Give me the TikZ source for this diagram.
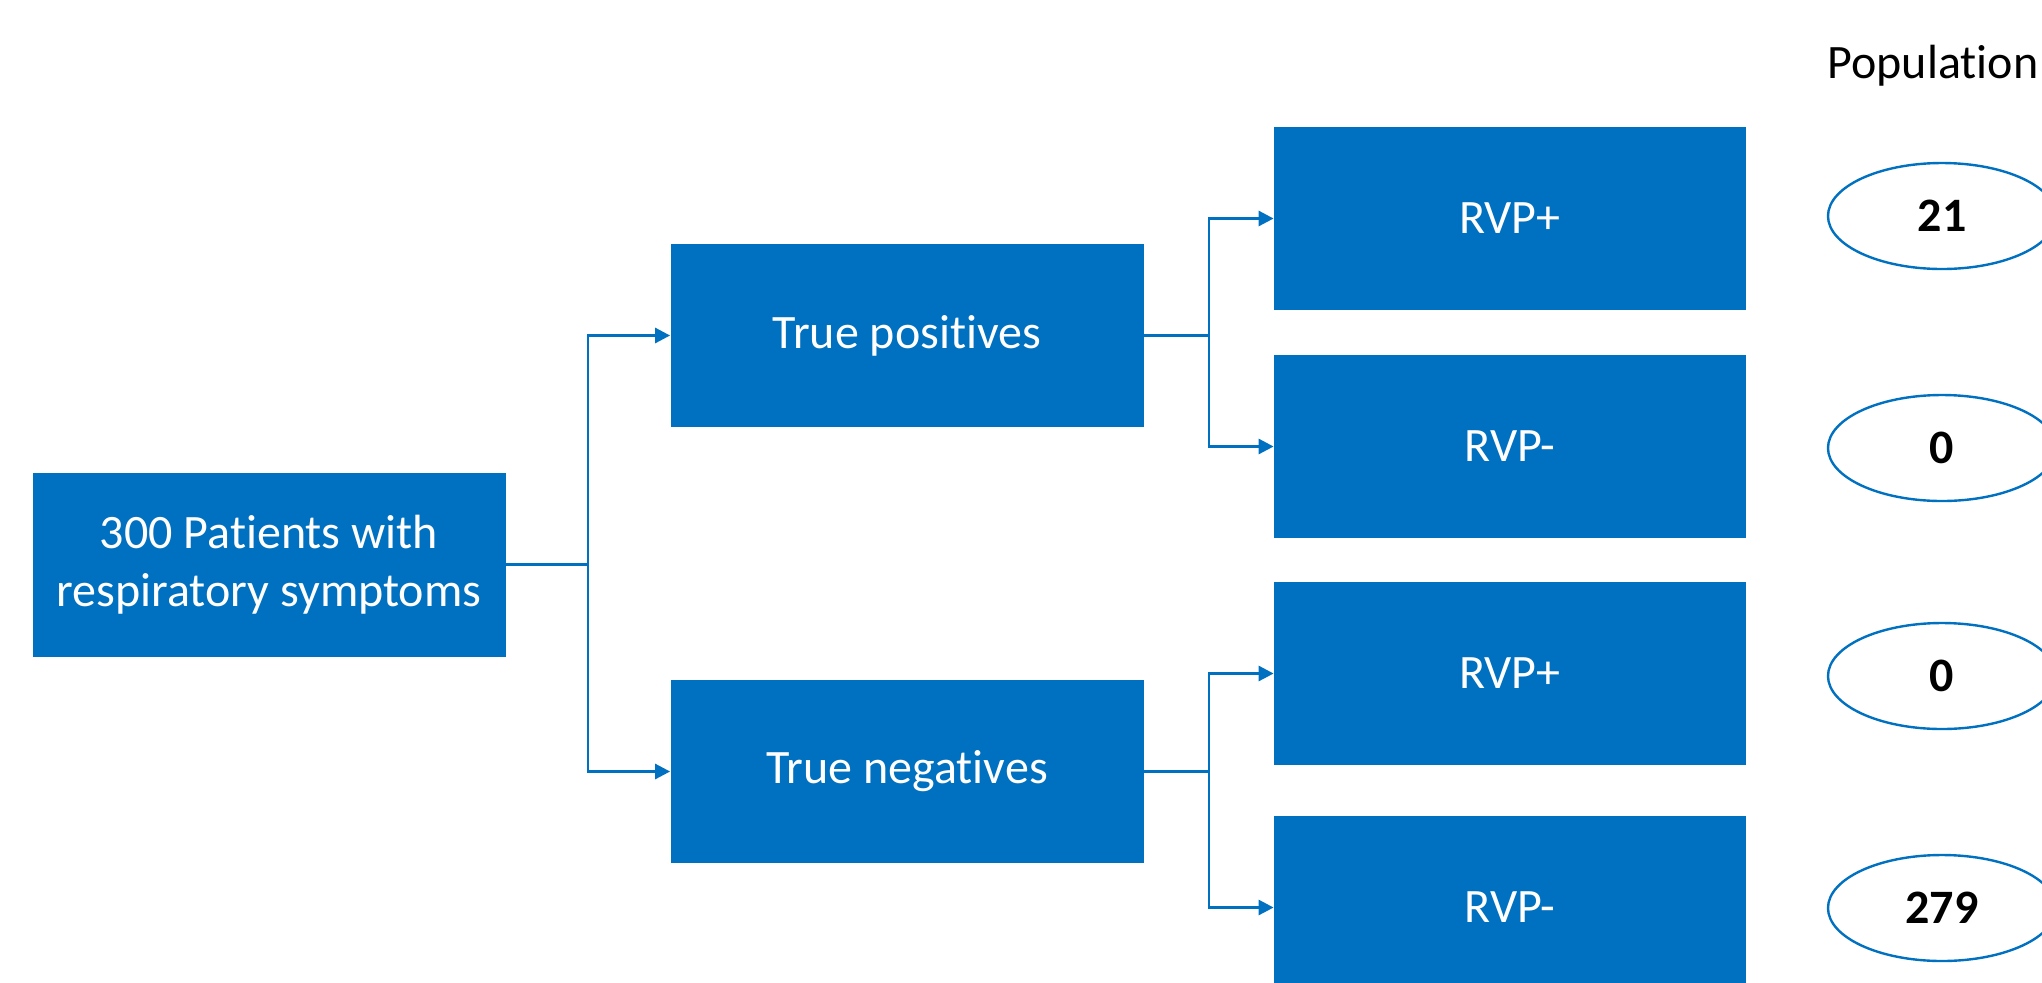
\documentclass[tikz,border=0pt]{standalone}
\usepackage{fontspec}
\setmainfont{Carlito}[Ligatures=NoCommon]
\usetikzlibrary{arrows.meta,shapes.geometric}
\definecolor{obl}{HTML}{0070C0}
\newlength{\px}
\setlength{\px}{0.5pt}
\tikzset{
  txt/.style={font=\fontsize{24}{29}\selectfont},
  bluebox/.style={rectangle, fill=obl, draw=none, text=white, align=center,
    inner sep=0pt, txt},
  numell/.style={ellipse, draw=obl, line width=1.2pt, fill=white, inner sep=0pt,
    minimum width=228\px, minimum height=106\px, font=\fontsize{24}{29}\selectfont\bfseries},
  conn/.style={draw=obl, line width=1.4pt},
  arr/.style={conn, -{Triangle[length=7.5pt, width=7.5pt]}},
}
\begin{document}
\begin{tikzpicture}[x=0.5pt, y=-0.5pt]
\useasboundingbox (0,0) rectangle (2042,982);
\clip (0,0) rectangle (2042,982);
% boxes
\node[bluebox, minimum width=473\px, minimum height=184\px] (A) at (269,564.5) {300 Patients with\\respiratory symptoms};
\node[bluebox, minimum width=473\px, minimum height=183\px] (TP) at (907,335.5) {True positives};
\node[bluebox, minimum width=473\px, minimum height=183\px] (TN) at (907,771.5) {True negatives};
\node[bluebox, minimum width=472\px, minimum height=183\px] (R1) at (1510,218.5) {RVP+};
\node[bluebox, minimum width=472\px, minimum height=183\px] (R2) at (1510,446.5) {RVP-};
\node[bluebox, minimum width=472\px, minimum height=183\px] (R3) at (1510,673.5) {RVP+};
\node[bluebox, minimum width=472\px, minimum height=183\px] (R4) at (1510,907.5) {RVP-};
% ellipses
\node[numell] (E1) at (1942,216) {21};
\node[numell] (E2) at (1942,448) {0};
\node[numell] (E3) at (1942,676) {0};
\node[numell] (E4) at (1942,908) {279};
\node[anchor=base, inner sep=0pt, txt] (pop) at (1933,78) {Population};
% connectors
\coordinate (s1) at (588,564.5);
\coordinate (s2) at (1209,335.5);
\coordinate (s3) at (1209,771.5);
\draw[conn] (A.east) -- (s1);
\draw[arr] (s1) |- (TP.west);
\draw[arr] (s1) |- (TN.west);
\draw[conn] (TP.east) -- (s2);
\draw[arr] (s2) |- (R1.west);
\draw[arr] (s2) |- (R2.west);
\draw[conn] (TN.east) -- (s3);
\draw[arr] (s3) |- (R3.west);
\draw[arr] (s3) |- (R4.west);
\end{tikzpicture}
\end{document}
